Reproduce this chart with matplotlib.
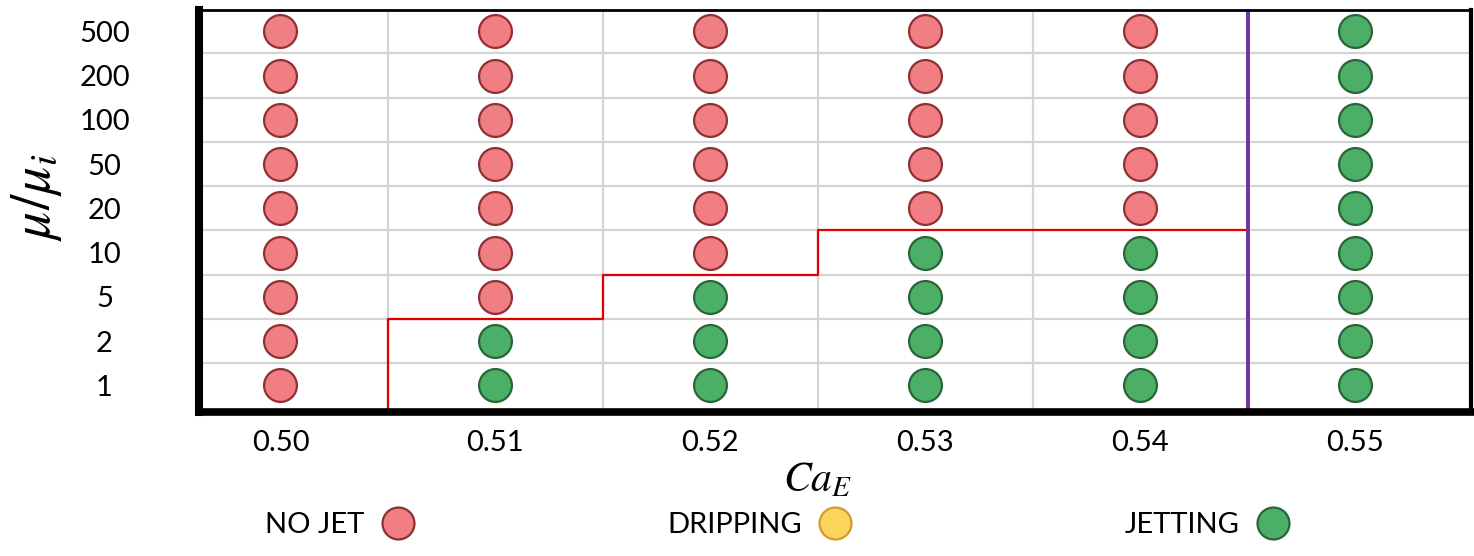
import numpy as np
import matplotlib.pyplot as plt
from matplotlib.lines import Line2D

plt.rcParams['font.family'] = ['Lato', 'DejaVu Sans']
plt.rcParams['mathtext.fontset'] = 'stix'

ca_labels = ["0.50", "0.51", "0.52", "0.53", "0.54", "0.55"]
ratio_labels = ["1", "2", "5", "10", "20", "50", "100", "200", "500"]
# how many cases are jetting, counted from the bottom row, in each column
jet_count = [0, 2, 3, 4, 4, 9]

red_face, red_edge = '#f07e82', '#8e3034'
green_face, green_edge = '#4caf68', '#2a6438'
yellow_face, yellow_edge = '#fcd45c', '#d29a2c'

fig = plt.figure(figsize=(14.74, 5.56), dpi=100)
ax = fig.add_axes([0.135, 0.259, 0.863, 0.723])

ylo, yhi = -0.6, 8.48
rows = np.arange(len(ratio_labels))
for i, n in enumerate(jet_count):
    jet = rows < n
    ax.scatter(np.full(jet.sum(), i), rows[jet], s=560, c=green_face,
               edgecolors=green_edge, linewidths=1.6, zorder=4)
    ax.scatter(np.full((~jet).sum(), i), rows[~jet], s=560, c=red_face,
               edgecolors=red_edge, linewidths=1.6, zorder=4)

# red step boundary between no jet and jetting (columns 1..4)
bx, by = [0.5], [ylo]
for i in range(1, 5):
    bx += [i - 0.5, i + 0.5]
    by += [jet_count[i] - 0.5, jet_count[i] - 0.5]
ax.plot(bx, by, color='#e00000', lw=1.6, zorder=3)
ax.axvline(4.5, color='#7030a0', lw=2.8, zorder=3)

ax.set_xlim(-0.379, 5.54)
ax.set_ylim(ylo, yhi)
ax.set_xticks(range(len(ca_labels)))
ax.set_xticklabels(ca_labels)
ax.set_yticks(range(len(ratio_labels)))
ax.set_yticklabels(ratio_labels, ha='center')
ax.set_xticks(np.arange(0.5, 5, 1), minor=True)
ax.set_yticks(np.arange(0.5, 8, 1), minor=True)
ax.grid(which='minor', color='#d4d4d4', lw=1.6, zorder=0)
ax.tick_params(which='both', length=0)
ax.tick_params(axis='x', labelsize=21, pad=13)
ax.tick_params(axis='y', labelsize=21, pad=68)

for side, w in [('left', 5.8), ('bottom', 5.5), ('right', 3), ('top', 2)]:
    ax.spines[side].set_linewidth(w)
    ax.spines[side].set_color('black')
    ax.spines[side].set_zorder(5)

ax.set_xlabel(r'$Ca_E$', fontsize=30)
ax.xaxis.set_label_coords(0.486, -0.12)
ax.set_ylabel(r'$\mu/\mu_i$', fontsize=40)
ax.yaxis.set_label_coords(-0.106, 0.535)

legend_items = [("NO JET", red_face, red_edge, 0.180),
                ("DRIPPING", yellow_face, yellow_edge, 0.4525),
                ("JETTING", green_face, green_edge, 0.763)]
for label, fc, ec, xpos in legend_items:
    h = Line2D([], [], ls='none', marker='o', ms=23, mfc=fc, mec=ec, mew=1.6)
    fig.legend([h], [label], loc='center left', bbox_to_anchor=(xpos, 0.056),
               frameon=False, markerfirst=False, fontsize=21,
               handlelength=1.3, handletextpad=0.5, borderpad=0, borderaxespad=0)

fig.savefig('out.png', dpi=100)
